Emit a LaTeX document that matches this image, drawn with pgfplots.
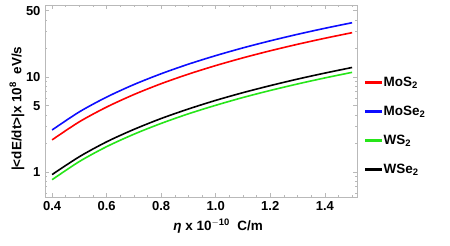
\documentclass[border=0pt]{standalone}
\usepackage{fontspec}
\setmainfont{Liberation Sans}
\usepackage{pgfplots}
\pgfplotsset{compat=1.18}
\definecolor{cgreen}{rgb}{0.15,0.9,0.1}
\definecolor{cblue}{rgb}{0.05,0.05,1}
\begin{document}
\begin{tikzpicture}
\begin{axis}[
  scale only axis, width=312pt, height=192pt,
  ymode=log, xmin=0.374, xmax=1.518, ymin=0.546, ymax=57.3,
  axis line style={gray!55, line width=0.6pt},
  tick style={gray!55, line width=0.5pt},
  tick align=inside,
  major tick length=4pt, minor tick length=2.2pt,
  xtick={0.4,0.6,0.8,1.0,1.2,1.4},
  xticklabels={\textbf{0.4},\textbf{0.6},\textbf{0.8},\textbf{1.0},\textbf{1.2},\textbf{1.4}},
  minor xtick={0.45,0.5,0.55,0.65,0.7,0.75,0.85,0.9,0.95,1.05,1.1,1.15,1.25,1.3,1.35,1.45,1.5},
  ytick={1,5,10,50},
  yticklabels={\textbf{1},\textbf{5},\textbf{10},\textbf{50}},
  minor ytick={0.6,0.7,0.8,0.9,2,3,4,6,7,8,9,20,30,40},
  tick label style={font=\fontsize{13}{15}\selectfont, black},
  xticklabel style={yshift=-1pt},
  yticklabel style={xshift=-1pt},
  xlabel={\textbf{\textit{η} x 10$^{\mathbf{-10}}$\ \ C/m}},
  ylabel={\textbf{|<dE/dt>|x 10$^{\mathbf{8}}$\ \ eV/s}},
  label style={font=\fontsize{13.5}{15}\selectfont},
  xlabel style={at={(axis description cs:0.555,0)}, anchor=north, yshift=-18pt},
  ylabel style={at={(axis description cs:0,0.46)}, anchor=south, yshift=17pt},
  legend style={draw=none, at={(1.025,0.37)}, anchor=west, font=\fontsize{13.5}{15}\selectfont\bfseries, row sep=14pt, inner sep=0pt},
  legend cell align=left,
  every axis plot/.append style={line width=1.6pt, smooth, no marks},
]
\addlegendimage{legend image code/.code={\fill[red] (0pt,-0.85pt) rectangle (15pt,0.85pt);}}
\addlegendentry{\color{black}MoS$_{\mathbf{2}}$}
\addlegendimage{legend image code/.code={\fill[cblue] (0pt,-0.85pt) rectangle (15pt,0.85pt);}}
\addlegendentry{\color{black}MoSe$_{\mathbf{2}}$}
\addlegendimage{legend image code/.code={\fill[cgreen] (0pt,-0.85pt) rectangle (15pt,0.85pt);}}
\addlegendentry{\color{black}WS$_{\mathbf{2}}$}
\addlegendimage{legend image code/.code={\fill[black] (0pt,-0.85pt) rectangle (15pt,0.85pt);}}
\addlegendentry{\color{black}WSe$_{\mathbf{2}}$}
\addplot[red, forget plot] coordinates {(0.4,2.18)(0.5,3.38)(0.6,4.83)(0.7,6.54)(0.8,8.51)(0.9,10.73)(1.0,13.20)(1.1,15.92)(1.2,18.89)(1.3,22.11)(1.4,25.58)(1.5,29.3)};
\addplot[cblue, forget plot] coordinates {(0.4,2.77)(0.5,4.30)(0.6,6.15)(0.7,8.33)(0.8,10.83)(0.9,13.66)(1.0,16.80)(1.1,20.27)(1.2,24.05)(1.3,28.15)(1.4,32.57)(1.5,37.3)};
\addplot[cgreen, forget plot] coordinates {(0.4,0.83)(0.5,1.29)(0.6,1.85)(0.7,2.50)(0.8,3.25)(0.9,4.10)(1.0,5.04)(1.1,6.09)(1.2,7.22)(1.3,8.45)(1.4,9.78)(1.5,11.2)};
\addplot[black, forget plot] coordinates {(0.4,0.94)(0.5,1.45)(0.6,2.08)(0.7,2.81)(0.8,3.66)(0.9,4.61)(1.0,5.68)(1.1,6.85)(1.2,8.12)(1.3,9.51)(1.4,11.00)(1.5,12.6)};
\end{axis}
\pgfresetboundingbox
\path ([shift={(-45pt,-49pt)}]current axis.south west) rectangle ([shift={(93pt,5pt)}]current axis.north east);
\end{tikzpicture}
\end{document}
